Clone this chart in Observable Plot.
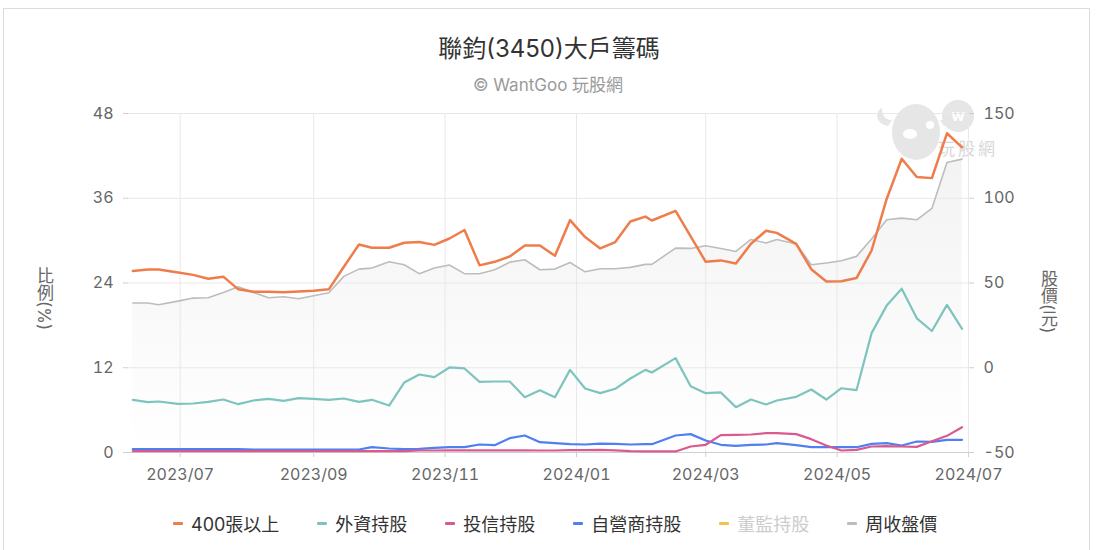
<!DOCTYPE html>
<html>
<head>
<meta charset="utf-8">
<script src="https://cdn.jsdelivr.net/npm/d3@7"></script>
<script src="https://cdn.jsdelivr.net/npm/@observablehq/plot@0.6"></script>
<style>
  html, body { margin: 0; padding: 0; background: #fff; }
  body { width: 1096px; height: 550px; position: relative; overflow: hidden;
         font-family: "Inter", "Noto Sans CJK TC", sans-serif; }
  #frame { position: absolute; left: 3px; top: 8px; width: 1087px; height: 600px;
           border: 1px solid #dcdcdc; box-sizing: border-box; }
  #title { position: absolute; left: 0; width: 1098px; top: 34px; text-align: center;
           font-size: 24px; color: #333; line-height: 30px; }
  #subtitle { position: absolute; left: 0; width: 1096px; top: 74px; text-align: center;
              font-size: 17px; color: #9a9a9a; line-height: 22px; }
  #chart { position: absolute; left: 0; top: 100px; }
  .vlabel { position: absolute; writing-mode: vertical-rl; font-size: 17px; color: #666;
            line-height: 20px; }
  #legend { position: absolute; top: 510px; left: 173px; display: flex; align-items: center;
            font-size: 18px; color: #333; white-space: nowrap; }
  .item { display: flex; align-items: center; margin-right: 38px; }
  .sym { width: 10px; height: 3px; border-radius: 1px; margin-right: 8px; }
  #wm { position: absolute; left: 870px; top: 98px; }
</style>
</head>
<body>
<div id="frame"></div>
<div id="title"></div>
<div id="subtitle"></div>
<svg id="wm" width="140" height="70" viewBox="0 0 140 70">
  <g fill="#e6e6e6">
    <path d="M12 10 C 4 14, 6 26, 18 28 L 22 22 C 14 22, 12 16, 12 10 Z"/>
    <path d="M80 10 C 88 14, 86 26, 74 28 L 70 22 C 78 22, 80 16, 80 10 Z"/>
    <ellipse cx="46" cy="34" rx="24" ry="28"/>
    <circle cx="88" cy="18" r="16"/>
  </g>
  <ellipse cx="40" cy="36" rx="7" ry="5" fill="#fff"/>
  <circle cx="60" cy="27" r="4" fill="#fff"/>
  <text x="88" y="23" text-anchor="middle" font-size="16" font-weight="bold" fill="#fff" font-family="Inter">w</text>
  <text x="68" y="57" font-size="17" fill="#d8d8d8" letter-spacing="3" font-family="Noto Sans CJK TC">玩股網</text>
</svg>
<div id="chart"></div>
<div class="vlabel" style="left:34px; top:267px;">比例(%)</div>
<div class="vlabel" style="left:1038px; top:270px;">股價(元)</div>
<div id="legend"></div>
<script>
// ---- data ----
const titleText = "聯鈞(3450)大戶籌碼";
const subtitleText = "© WantGoo 玩股網";

const dates = [
  "2023-06-09","2023-06-16","2023-06-21","2023-06-30","2023-07-07","2023-07-14","2023-07-21","2023-07-28",
  "2023-08-04","2023-08-11","2023-08-18","2023-08-25","2023-09-01","2023-09-08","2023-09-15","2023-09-22",
  "2023-09-28","2023-10-06","2023-10-13","2023-10-20","2023-10-27","2023-11-03","2023-11-10","2023-11-17",
  "2023-11-24","2023-12-01","2023-12-08","2023-12-15","2023-12-22","2023-12-29","2024-01-05","2024-01-12",
  "2024-01-19","2024-01-26","2024-02-02","2024-02-05","2024-02-16","2024-02-23","2024-03-01","2024-03-08",
  "2024-03-15","2024-03-22","2024-03-29","2024-04-03","2024-04-12","2024-04-19","2024-04-26","2024-05-03",
  "2024-05-10","2024-05-17","2024-05-24","2024-05-31","2024-06-07","2024-06-14","2024-06-21","2024-06-28"
];

// 400張以上 (%)
const holders400 = [25.7,25.9,25.9,25.5,25.15,24.6,24.9,23.1,22.75,22.75,22.7,22.8,22.9,23.1,26.3,29.45,
  29.0,29.0,29.7,29.8,29.4,30.3,31.5,26.5,27.0,27.75,29.3,29.3,27.85,32.9,30.5,28.9,
  29.8,32.7,33.4,32.85,34.2,30.6,27.0,27.2,26.75,29.55,31.4,31.1,29.55,25.95,24.2,24.25,
  24.7,28.6,35.9,41.6,39.0,38.85,45.2,43.2];

// 外資持股 (%)
const foreign = [7.46,7.13,7.22,6.89,6.94,7.17,7.5,6.84,7.36,7.6,7.32,7.7,7.6,7.46,7.65,7.17,
  7.46,6.65,9.9,11.04,10.67,12.04,11.9,10.0,10.05,10.05,7.83,8.8,7.83,11.7,9.06,8.4,
  9.02,10.48,11.7,11.33,13.36,9.39,8.4,8.5,6.42,7.5,6.8,7.36,7.88,8.92,7.5,9.1,
  8.82,16.9,20.8,23.2,19.0,17.2,20.9,17.5];

// 投信持股 (%)
const trust = [0.2,0.2,0.2,0.2,0.2,0.2,0.2,0.2,0.2,0.2,0.2,0.2,0.2,0.2,0.2,0.2,
  0.2,0.2,0.2,0.28,0.28,0.3,0.3,0.3,0.3,0.3,0.3,0.28,0.28,0.33,0.33,0.38,
  0.3,0.2,0.15,0.15,0.15,0.85,1.09,2.45,2.5,2.55,2.74,2.74,2.6,1.89,0.99,0.28,
  0.38,0.85,0.9,0.85,0.8,1.6,2.36,3.58];

// 自營商持股 (%)
const dealer = [0.47,0.47,0.47,0.47,0.47,0.47,0.47,0.47,0.42,0.42,0.42,0.42,0.42,0.42,0.42,0.42,
  0.75,0.57,0.47,0.5,0.66,0.75,0.75,1.13,1.04,2.03,2.41,1.46,1.32,1.18,1.13,1.27,
  1.23,1.13,1.18,1.18,2.41,2.6,1.7,1.09,0.94,1.09,1.13,1.32,1.04,0.75,0.75,0.75,
  0.75,1.23,1.32,0.99,1.56,1.51,1.79,1.79];

// 周收盤價 (元)
const price = [38.2,38.2,37.2,39.3,41.1,41.3,44.4,47.8,44.4,41.3,41.9,40.7,42.5,44.2,53.9,58.2,
  58.8,62.5,60.8,55.5,58.8,60.6,55.5,55.5,57.8,62.3,63.7,57.8,58.2,62.1,56.6,58.4,
  58.4,59.2,61.0,61.0,70.6,70.4,72.0,70.4,68.6,75.7,73.6,75.7,73.0,60.8,61.8,63.1,
  65.7,75.9,87.3,88.3,87.3,94.0,121.1,123.1];

const leftTicks = [0, 12, 24, 36, 48];
const rightTicks = [-50, 0, 50, 100, 150];
const monthTicks = ["2023-07-01","2023-09-01","2023-11-01","2024-01-01","2024-03-01","2024-05-01","2024-07-01"];
const xDomain = ["2023-06-07", "2024-07-01"];

const legendNames = ["400張以上", "外資持股", "投信持股", "自營商持股", "董監持股", "周收盤價"];
const legendColors = ["#ee7d4b", "#7ec4be", "#d95b8e", "#4f7ff0", "#f2c14e", "#bdbdbd"];
const legendHidden = [false, false, false, false, true, false];

// ---- build ----
document.getElementById("title").textContent = titleText;
document.getElementById("subtitle").textContent = subtitleText;

const parse = d3.utcParse("%Y-%m-%d");
const rows = dates.map((d, i) => ({
  date: parse(d), h400: holders400[i], foreign: foreign[i], trust: trust[i],
  dealer: dealer[i], price: price[i]
}));
// map price (right axis, -50..150) onto the left scale (0..48)
const toLeft = p => (p - rightTicks[0]) * (leftTicks[leftTicks.length - 1] - leftTicks[0]) /
  (rightTicks[rightTicks.length - 1] - rightTicks[0]) + leftTicks[0];
const monthDates = monthTicks.map(parse);

const defsMark = () => {
  const ns = "http://www.w3.org/2000/svg";
  const defs = document.createElementNS(ns, "defs");
  defs.innerHTML = '<linearGradient id="priceGrad" gradientUnits="userSpaceOnUse" x1="0" y1="13" x2="0" y2="352">' +
    '<stop offset="0" stop-color="#f1f1f1"/><stop offset="1" stop-color="#ffffff"/></linearGradient>';
  return defs;
};

const chart = Plot.plot({
  width: 1096,
  height: 390,
  marginLeft: 128,
  marginRight: 128,
  marginTop: 13,
  marginBottom: 38,
  style: { background: "transparent", fontFamily: "Inter, 'Noto Sans CJK TC', sans-serif", fontSize: "16px", overflow: "visible" },
  x: { type: "utc", domain: xDomain.map(parse) },
  y: { domain: [leftTicks[0], leftTicks[leftTicks.length - 1]] },
  marks: [
    defsMark,
    Plot.areaY(rows, { x: "date", y1: leftTicks[0], y2: d => toLeft(d.price), fill: "url(#priceGrad)" }),
    Plot.gridY(leftTicks, { stroke: "#e8e8e8", strokeOpacity: 1 }),
    Plot.gridX(monthDates, { stroke: "#e8e8e8", strokeOpacity: 1 }),
    Plot.lineY(rows, { x: "date", y: d => toLeft(d.price), stroke: legendColors[5], strokeWidth: 1.6 }),
    Plot.ruleY([leftTicks[0]], { stroke: "#cfcfcf" }),
    Plot.lineY(rows, { x: "date", y: "foreign", stroke: legendColors[1], strokeWidth: 2.2 }),
    Plot.lineY(rows, { x: "date", y: "dealer", stroke: legendColors[3], strokeWidth: 2.2 }),
    Plot.lineY(rows, { x: "date", y: "trust", stroke: legendColors[2], strokeWidth: 2.2 }),
    Plot.lineY(rows, { x: "date", y: "h400", stroke: legendColors[0], strokeWidth: 2.5 }),
    Plot.axisY(leftTicks, { anchor: "left", tickSize: 5, tickPadding: 10, label: null,
      stroke: "#cfcfcf", fill: "#666" }),
    Plot.axisY(rightTicks, { anchor: "right", y: toLeft, tickFormat: d => String(d), tickSize: 5,
      tickPadding: 10, label: null, stroke: "#cfcfcf", fill: "#666" }),
    Plot.axisX(monthDates, { tickFormat: d3.utcFormat("%Y/%m"), tickSize: 5, tickPadding: 11,
      label: null, stroke: "#cfcfcf", fill: "#666" })
  ]
});
document.getElementById("chart").appendChild(chart);

const legend = document.getElementById("legend");
legendNames.forEach((name, i) => {
  const item = document.createElement("div");
  item.className = "item";
  const sym = document.createElement("span");
  sym.className = "sym";
  sym.style.background = legendColors[i];
  const txt = document.createElement("span");
  txt.textContent = name;
  if (legendHidden[i]) txt.style.color = "#cccccc";
  item.appendChild(sym);
  item.appendChild(txt);
  legend.appendChild(item);
});
</script>
</body>
</html>
